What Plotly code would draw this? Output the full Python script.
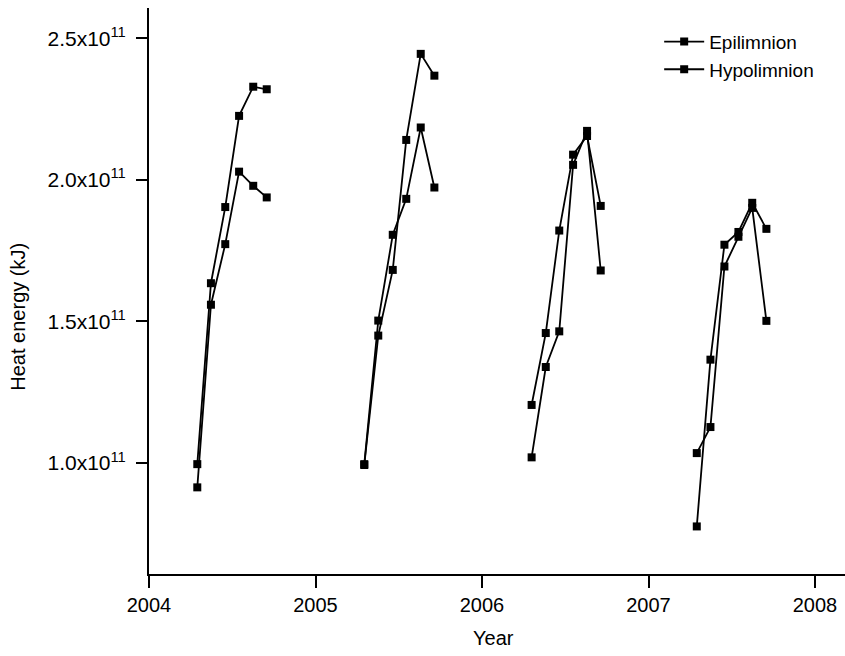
import plotly.graph_objects as go

# Sampling dates (decimal year), April to September of each year
years_2004 = [2004.290, 2004.372, 2004.458, 2004.541, 2004.626, 2004.707]
years_2005 = [2005.293, 2005.377, 2005.464, 2005.545, 2005.632, 2005.714]
years_2006 = [2006.298, 2006.383, 2006.464, 2006.547, 2006.631, 2006.713]
years_2007 = [2007.290, 2007.372, 2007.456, 2007.540, 2007.623, 2007.708]

# Heat energy in units of 1e11 kJ
epi_2004 = [0.996, 1.635, 1.904, 2.226, 2.329, 2.320]
epi_2005 = [0.993, 1.450, 1.682, 2.141, 2.445, 2.368]
epi_2006 = [1.020, 1.339, 1.465, 2.053, 2.173, 1.680]
epi_2007 = [0.776, 1.365, 1.771, 1.816, 1.919, 1.827]

hypo_2004 = [0.914, 1.559, 1.773, 2.029, 1.979, 1.938]
hypo_2005 = [0.996, 1.503, 1.806, 1.933, 2.185, 1.973]
hypo_2006 = [1.205, 1.459, 1.821, 2.089, 2.155, 1.908]
hypo_2007 = [1.035, 1.127, 1.694, 1.799, 1.901, 1.502]

x_ticks = [2004, 2005, 2006, 2007, 2008]
y_ticks = [1.0, 1.5, 2.0, 2.5]
y_tick_text = ["1.0x10<sup>11</sup>", "1.5x10<sup>11</sup>",
               "2.0x10<sup>11</sup>", "2.5x10<sup>11</sup>"]

SCALE = 1e11


def join_seasons(seasons_x, seasons_y):
    """Concatenate yearly runs, separated by gaps so seasons stay unconnected."""
    xs, ys = [], []
    for sx, sy in zip(seasons_x, seasons_y):
        xs += list(sx) + [None]
        ys += [v * SCALE for v in sy] + [None]
    return xs, ys


all_x = [years_2004, years_2005, years_2006, years_2007]
epi_x, epi_y = join_seasons(all_x, [epi_2004, epi_2005, epi_2006, epi_2007])
hypo_x, hypo_y = join_seasons(all_x, [hypo_2004, hypo_2005, hypo_2006, hypo_2007])

FONT = "Liberation Sans, Arial, Helvetica, sans-serif"

fig = go.Figure()
for name, xs, ys in [("Epilimnion", epi_x, epi_y), ("Hypolimnion", hypo_x, hypo_y)]:
    fig.add_trace(go.Scatter(
        x=xs, y=ys, name=name, mode="lines+markers",
        connectgaps=False,
        line=dict(color="black", width=1.8),
        marker=dict(symbol="square", size=8, color="black"),
    ))

fig.update_layout(
    width=845, height=656,
    margin=dict(l=149, r=0, t=8, b=82),
    paper_bgcolor="white", plot_bgcolor="white",
    font=dict(family=FONT, size=20, color="black"),
    showlegend=True,
    legend=dict(
        x=0.733, y=0.974, xanchor="left", yanchor="top",
        bgcolor="rgba(0,0,0,0)", font=dict(size=19),
        tracegroupgap=0, itemwidth=40,
    ),
    xaxis=dict(
        range=[2004, 2004 + 696 / 166.5],
        tickvals=x_ticks, ticktext=[str(v) for v in x_ticks],
        showgrid=False, zeroline=False,
        showline=True, linecolor="black", linewidth=2,
        ticks="outside", ticklen=12, tickwidth=2, tickcolor="black",
        tickfont=dict(size=20),
    ),
    yaxis=dict(
        range=[0.608 * SCALE, 2.607 * SCALE],
        tickvals=[v * SCALE for v in y_ticks], ticktext=y_tick_text,
        showgrid=False, zeroline=False,
        showline=True, linecolor="black", linewidth=2,
        ticks="outside", ticklen=11, tickwidth=2, tickcolor="black",
        tickfont=dict(size=21), ticklabelstandoff=6,
    ),
    annotations=[
        dict(text="Heat energy (kJ)", textangle=-90, showarrow=False,
             xref="paper", yref="paper", x=(18 - 149) / 696, y=(574.3 - 317) / 566,
             xanchor="center", yanchor="middle", font=dict(size=20)),
        dict(text="Year", showarrow=False,
             xref="paper", yref="paper", x=(493 - 149) / 696, y=(574.3 - 638) / 566,
             xanchor="center", yanchor="middle", font=dict(size=20)),
    ],
)

fig.write_html("out.html")
